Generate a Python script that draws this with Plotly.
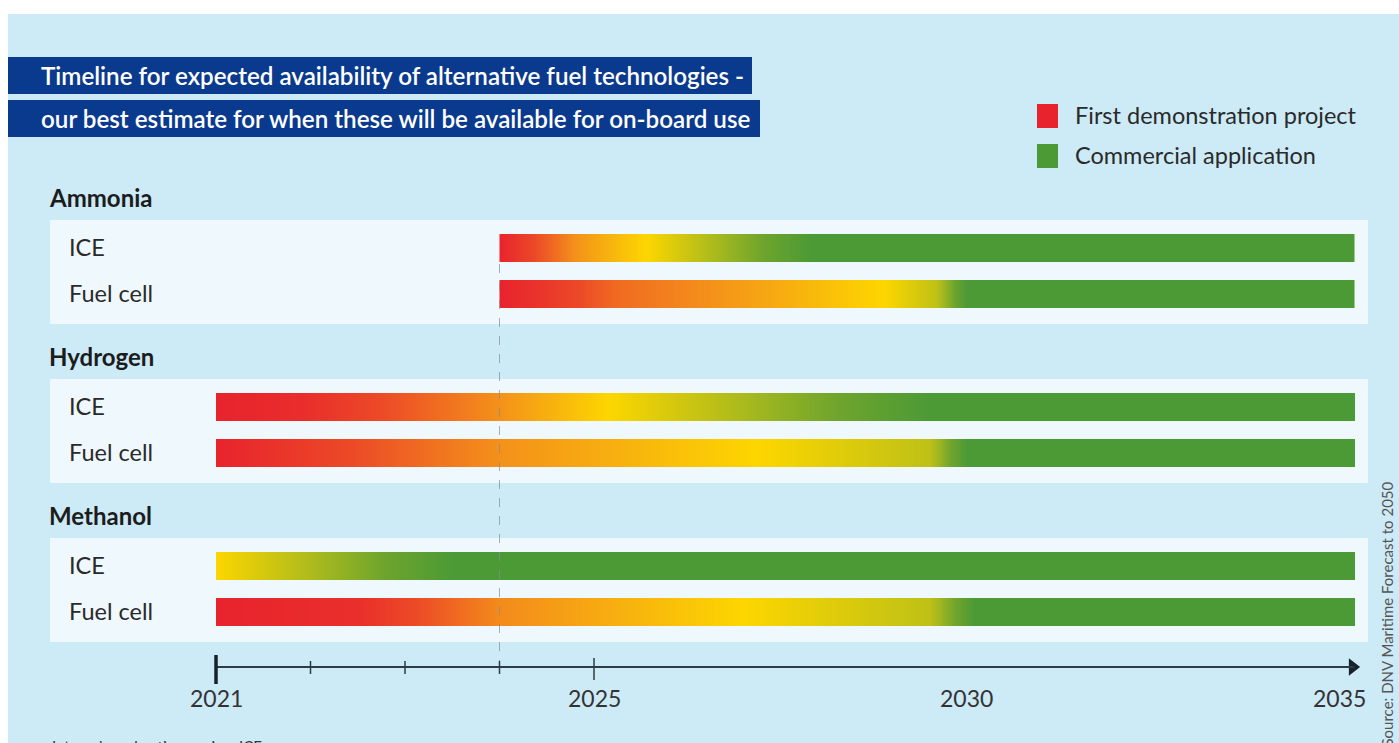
import numpy as np
import plotly.graph_objects as go

W, H = 1399, 743

# ---------------- data ----------------
groups = ["Ammonia", "Hydrogen", "Methanol"]
technologies = ["ICE", "Fuel cell"]

# colour-ramp stops per bar: (year, maturity); 0 = first demonstration, 1 = commercial
ammonia_ice_stops = [(2024.0, 0.0), (2024.8, 0.42), (2025.7, 0.65), (2027.9, 1.0)]
ammonia_fc_stops = [(2024.0, 0.0), (2024.4, 0.08), (2025.3, 0.30), (2027.4, 0.50),
                    (2028.9, 0.65), (2029.6, 0.76), (2030.0, 1.0)]
hydrogen_ice_stops = [(2021.0, 0.0), (2021.9, 0.05), (2024.0, 0.42), (2025.2, 0.65), (2029.5, 1.0)]
hydrogen_fc_stops = [(2021.0, 0.0), (2021.6, 0.08), (2024.0, 0.42), (2027.2, 0.65),
                     (2029.5, 0.76), (2030.0, 1.0)]
methanol_ice_stops = [(2021.0, 0.65), (2023.5, 1.0)]
methanol_fc_stops = [(2021.0, 0.0), (2022.5, 0.06), (2024.0, 0.40), (2027.0, 0.65),
                     (2029.5, 0.76), (2030.1, 1.0)]

timeline_end = 2035.2
axis_years = [2021, 2025, 2030, 2035]
minor_years = [2022, 2023, 2024]
marker_year = 2024
legend_labels = ["First demonstration project", "Commercial application"]

title_lines = ["Timeline for expected availability of alternative fuel technologies -",
               "our best estimate for when these will be available for on-board use"]
source_text = "Source: DNV Maritime Forecast to 2050"
footnote = "Internal combustion engine: ICE"

bar_stops = {
    ("Ammonia", "ICE"): ammonia_ice_stops,
    ("Ammonia", "Fuel cell"): ammonia_fc_stops,
    ("Hydrogen", "ICE"): hydrogen_ice_stops,
    ("Hydrogen", "Fuel cell"): hydrogen_fc_stops,
    ("Methanol", "ICE"): methanol_ice_stops,
    ("Methanol", "Fuel cell"): methanol_fc_stops,
}

# ---------------- styling ----------------
RED = "#e8232d"
GREEN = "#4c9a36"
maturity_scale = [
    [0.00, RED],
    [0.20, "#ec4a27"],
    [0.42, "#f4911a"],
    [0.55, "#f8b80c"],
    [0.65, "#fdd600"],
    [0.80, "#a8b91e"],
    [0.90, "#6ea42d"],
    [1.00, GREEN],
]
BG = "#cdeaf7"
PANEL = "#eff8fc"
NAVY = "#0a3a8e"
TEXT = "#2a2a2a"
FONT = "Lato"

# time scale: one unit per year up to 2025, compressed afterwards
LATE_FACTOR = 0.789
X0_PX, UNIT_PX = 216, 94.5


def tpos(year):
    y = np.asarray(year, dtype=float)
    return np.where(y <= 2025, y - 2021, 4 + (y - 2025) * LATE_FACTOR)


def px(xpix):
    return xpix / W


# row layout (y axis in pixels, top-down)
FIRST_ROW_Y = 248
GROUP_STEP = 159
ROW_STEP = 46
BAR_H = 28

fig = go.Figure()

shapes = []
annotations = []

# page background
shapes.append(dict(type="rect", xref="paper", yref="y", x0=px(8), x1=1, y0=14, y1=H,
                   fillcolor=BG, line_width=0, layer="below"))

# title boxes
for i, (line, top, right) in enumerate(zip(title_lines, [57, 100], [752, 760])):
    shapes.append(dict(type="rect", xref="paper", yref="y", x0=px(8), x1=px(right),
                       y0=top, y1=top + 37, fillcolor=NAVY, line_width=0, layer="below"))
    annotations.append(dict(xref="paper", yref="y", x=px(39), y=top + 18, text=line,
                            showarrow=False, xanchor="left", yanchor="middle",
                            font=dict(family=FONT, size=24.2, color="white", weight=600)))

# legend
for i, (lab, col) in enumerate(zip(legend_labels, [RED, GREEN])):
    cy = 116 + 40 * i
    shapes.append(dict(type="rect", xref="paper", yref="y", x0=px(1037), x1=px(1058),
                       y0=cy - 12, y1=cy + 12, fillcolor=col, line_width=0))
    annotations.append(dict(xref="paper", yref="y", x=px(1073), y=cy - 1, text=lab,
                            showarrow=False, xanchor="left", yanchor="middle",
                            font=dict(family=FONT, size=23.5, color=TEXT)))

for gi, g in enumerate(groups):
    ice_y = FIRST_ROW_Y + gi * GROUP_STEP
    # panel behind the group
    shapes.append(dict(type="rect", xref="paper", yref="y", x0=px(50), x1=px(1368),
                       y0=ice_y - 28, y1=ice_y + ROW_STEP + 30,
                       fillcolor=PANEL, line_width=0, layer="below"))
    annotations.append(dict(xref="paper", yref="y", x=px(47), y=ice_y - 51, text=g,
                            showarrow=False, xanchor="left", yanchor="middle",
                            font=dict(family=FONT, size=24, color="#1c1c1c", weight=700)))
    for ti, t in enumerate(technologies):
        cy = ice_y + ti * ROW_STEP
        annotations.append(dict(xref="paper", yref="y", x=px(67), y=cy - 1, text=t,
                                showarrow=False, xanchor="left", yanchor="middle",
                                font=dict(family=FONT, size=23.5, color=TEXT)))
        stops = bar_stops[(g, t)]
        s_years = [s[0] for s in stops]
        s_vals = [s[1] for s in stops]
        s_pos = tpos(s_years)
        x_lo, x_hi = float(s_pos[0]), float(tpos(timeline_end))
        edges = np.linspace(x_lo, x_hi, int((x_hi - x_lo) * 100) + 1)
        centers = 0.5 * (edges[:-1] + edges[1:])
        z = np.interp(centers, s_pos, s_vals)
        fig.add_trace(go.Heatmap(
            x=edges, y=[cy - BAR_H / 2, cy + BAR_H / 2], z=[z],
            colorscale=maturity_scale, zmin=0, zmax=1, showscale=False,
            hoverinfo="skip", zsmooth=False,
        ))

# dashed marker line
shapes.append(dict(type="line", xref="x", yref="y", x0=float(tpos(marker_year)),
                   x1=float(tpos(marker_year)), y0=FIRST_ROW_Y + BAR_H / 2 + 2, y1=668,
                   line=dict(color="#7f8f9a", width=1, dash="dash"), opacity=0.7))

# time axis
AXIS_Y = 667
end_pos = float(tpos(timeline_end))
shapes.append(dict(type="line", xref="x", yref="y", x0=float(tpos(2021)), x1=end_pos,
                   y0=AXIS_Y, y1=AXIS_Y, line=dict(color="#2d3b44", width=2)))
fig.add_trace(go.Scatter(x=[end_pos - 0.02], y=[AXIS_Y], mode="markers",
                         marker=dict(symbol="triangle-right", size=15, color="#16232b"),
                         hoverinfo="skip", showlegend=False))
shapes.append(dict(type="line", xref="x", yref="y", x0=float(tpos(2021)), x1=float(tpos(2021)),
                   y0=655, y1=684, line=dict(color="#16232b", width=3.5)))
for yv in minor_years:
    shapes.append(dict(type="line", xref="x", yref="y", x0=float(tpos(yv)), x1=float(tpos(yv)),
                       y0=661, y1=674, line=dict(color="#2d3b44", width=1.5)))
shapes.append(dict(type="line", xref="x", yref="y", x0=float(tpos(2025)), x1=float(tpos(2025)),
                   y0=658, y1=680, line=dict(color="#2d3b44", width=1.5)))
for yv in axis_years:
    annotations.append(dict(xref="x", yref="y", x=float(tpos(yv)), y=698, text=str(yv),
                            showarrow=False, xanchor="center", yanchor="middle",
                            font=dict(family=FONT, size=23, color="#333")))

# source and footnote
annotations.append(dict(xref="paper", yref="y", x=px(1386), y=480, text=source_text,
                        textangle=-90, showarrow=False, xanchor="center", yanchor="top",
                        font=dict(family=FONT, size=15, color="#555")))
annotations.append(dict(xref="paper", yref="y", x=px(50), y=735, text=footnote,
                        showarrow=False, xanchor="left", yanchor="top",
                        font=dict(family=FONT, size=15, color="#333")))

fig.update_layout(
    width=W, height=H,
    margin=dict(l=0, r=0, t=0, b=0),
    paper_bgcolor="white", plot_bgcolor="rgba(0,0,0,0)",
    showlegend=False,
    xaxis=dict(range=[-X0_PX / UNIT_PX, (W - X0_PX) / UNIT_PX], domain=[0, 1],
               visible=False, fixedrange=True),
    yaxis=dict(range=[H, 0], domain=[0, 1], visible=False, fixedrange=True),
    shapes=shapes,
    annotations=annotations,
)

fig.write_html("out.html")
